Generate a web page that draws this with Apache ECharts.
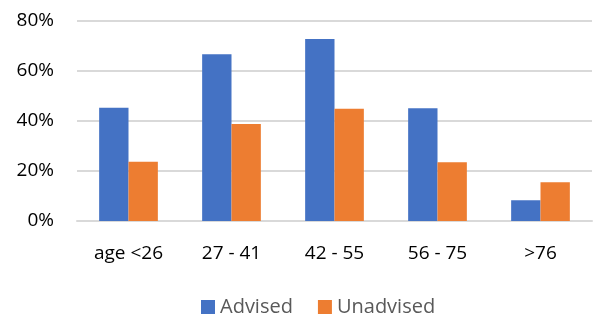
<!DOCTYPE html>
<html>
<head>
<meta charset="utf-8">
<script src="https://cdn.jsdelivr.net/npm/echarts@6/dist/echarts.min.js"></script>
<style>
  html, body { margin: 0; padding: 0; background: #fff; }
  #chart { width: 596px; height: 315px; }
</style>
</head>
<body>
<div id="chart"></div>
<script>
// categories and values (percent)
const ageGroups = ['age <26', '27 - 41', '42 - 55', '56 - 75', '>76'];
const advised = [45.3, 66.7, 72.8, 45.1, 8.3];
const unadvised = [23.7, 38.8, 44.9, 23.5, 15.5];
const seriesNames = ['Advised', 'Unadvised'];

const font = 'Open Sans, Liberation Sans, sans-serif';
const myChart = echarts.init(document.getElementById('chart'));

const option = {
    animation: false,
    textStyle: { fontFamily: font },
    grid: {
        left: 77,
        right: 4,
        top: 21,
        bottom: 94
    },
    legend: {
        top: 292,
        left: 196,
        itemWidth: 14,
        itemHeight: 14,
        itemGap: 25,
        icon: 'rect',
        textStyle: { color: '#595959', fontSize: 20, fontFamily: font },
        data: seriesNames
    },
    xAxis: {
        type: 'category',
        data: ageGroups,
        axisLine: { lineStyle: { color: '#d9d9d9', width: 2 } },
        axisTick: { show: false },
        axisLabel: { color: '#000', fontSize: 19, margin: 23, fontFamily: font }
    },
    yAxis: {
        type: 'value',
        min: 0,
        max: 80,
        interval: 20,
        axisLine: { show: false },
        axisTick: { show: false },
        splitLine: { lineStyle: { color: '#d9d9d9', width: 2 } },
        axisLabel: { color: '#000', fontSize: 19, margin: 23, formatter: '{value}%', fontFamily: font }
    },
    series: [
        {
            name: seriesNames[0],
            type: 'bar',
            data: advised,
            barGap: '0%',
            barCategoryGap: '43%',
            itemStyle: { color: '#4472c4' }
        },
        {
            name: seriesNames[1],
            type: 'bar',
            data: unadvised,
            itemStyle: { color: '#ed7d31' }
        }
    ]
};
myChart.setOption(option);
</script>
</body>
</html>
